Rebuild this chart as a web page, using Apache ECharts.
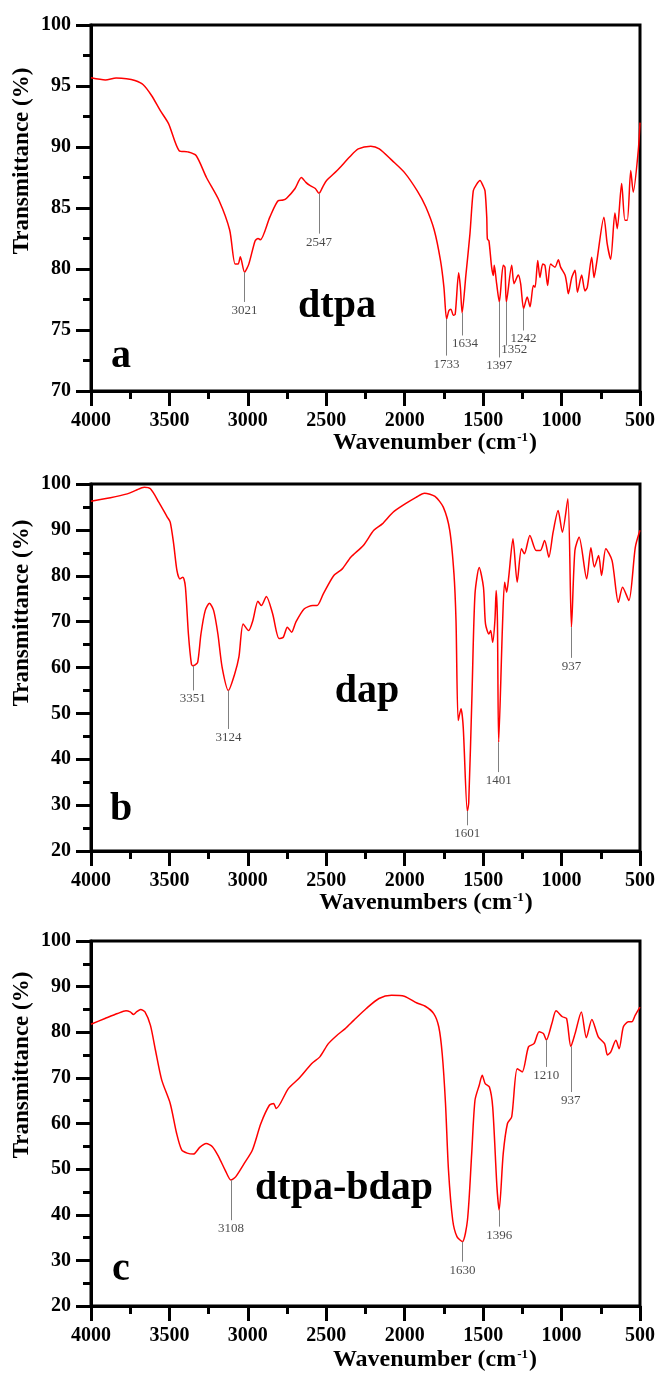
<!DOCTYPE html>
<html>
<head>
<meta charset="utf-8">
<script src="https://cdn.jsdelivr.net/npm/echarts@6/dist/echarts.min.js"></script>
<style>
html,body{margin:0;padding:0;background:#fff;}
#chart{width:661px;height:1374px;}
</style>
</head>
<body>
<div id="chart"></div>
<script>
// ---------- Panel a: dtpa ----------
const dtpaWn = [4000,3908,3840,3774,3720,3667,3613,3559,3505,3438,3384,3330,3264,3183,3116,3081,3062,3048,3021,2994,2954,2935,2920,2860,2806,2775,2753,2699,2659,2630,2605,2570,2547,2520,2498,2431,2350,2296,2216,2162,2081,2001,1920,1866,1812,1772,1750,1733,1718,1705,1690,1678,1656,1645,1634,1610,1584,1563,1544,1520,1500,1488,1477,1473,1463,1446,1435,1429,1414,1397,1372,1361,1352,1318,1303,1276,1261,1242,1219,1201,1180,1169,1152,1138,1120,1106,1089,1070,1042,1021,1006,978,967,957,935,914,899,872,851,836,808,793,776,730,709,687,660,645,617,596,581,559,543,511,500];
const dtpaT = [95.67,95.5,95.65,95.6,95.45,95.1,94.2,93.0,91.9,89.7,89.6,89.3,87.5,85.6,83.2,80.4,80.4,81.0,79.74,80.4,82.3,82.5,82.4,84.25,85.6,85.65,85.8,86.6,87.5,87.1,86.85,86.6,86.2,86.8,87.25,88.07,89.2,89.85,90.07,89.85,88.9,87.9,86.4,85.1,83.2,80.7,78.5,75.9,76.6,76.7,76.2,76.3,79.7,78.5,76.4,79.5,82.9,86.4,86.9,87.25,86.8,86.4,84.25,82.47,82.3,80.15,79.47,80.3,78.8,77.3,80.3,80.15,77.3,80.3,78.8,79.5,78.8,76.75,77.7,76.9,78.65,78.5,80.7,79.3,80.4,80.3,78.65,80.4,80.15,80.75,80.15,79.5,78.8,77.97,79.3,79.9,78.1,79.5,78.2,78.5,80.97,79.3,80.55,84.25,82.06,80.8,84.6,83.3,87.0,84.0,84.0,88.07,86.3,89.7,92.0];
const dtpaPeakWn = [3021,2547,1733,1634,1397,1352,1242];
const dtpaPeakTop = [79.74,86.2,75.9,76.4,77.3,77.3,76.75];
const dtpaPeakEnd = [77.3,82.9,72.9,74.55,72.75,73.73,74.96];
const dtpaPeakLabel = ['3021','2547','1733','1634','1397','1352','1242'];

// ---------- Panel b: dap ----------
const dapWn = [4000,3876,3769,3715,3661,3621,3567,3514,3495,3473,3452,3433,3414,3398,3379,3360,3351,3339,3320,3299,3272,3245,3218,3191,3164,3124,3084,3057,3030,2995,2968,2936,2914,2882,2842,2801,2774,2748,2721,2694,2640,2586,2559,2519,2452,2398,2344,2264,2197,2143,2076,1995,1928,1874,1807,1754,1713,1686,1673,1659,1641,1627,1601,1592,1571,1552,1525,1498,1485,1463,1452,1439,1425,1417,1409,1401,1377,1363,1350,1337,1310,1283,1256,1237,1202,1162,1135,1108,1081,1054,1022,995,960,937,915,888,840,813,791,764,745,718,678,638,611,571,530,500];
const dapT = [96.25,97.0,97.85,98.6,99.3,98.95,96.0,92.8,91.7,86.95,81.1,79.3,79.7,77.5,67.3,60.8,60.4,60.5,61.1,67.3,72.4,74.0,72.4,67.3,60.05,55.0,58.6,62.3,69.5,68.05,70.25,74.45,73.5,75.5,71.7,66.3,66.6,68.8,67.7,69.9,72.8,73.5,73.5,76.05,80.05,81.5,84.05,86.6,89.9,91.3,93.8,95.7,97.1,98.0,97.3,94.95,89.9,80.4,70.25,48.45,51.0,47.0,28.7,30.5,54.3,76.0,81.8,77.5,69.5,67.3,68.05,65.5,70.25,76.8,70.25,43.7,68.8,78.6,76.4,79.7,88.05,78.6,85.9,84.8,88.8,85.5,85.5,87.7,84.05,89.5,94.2,89.5,96.8,68.8,85.5,88.4,79.3,86.1,81.9,84.4,80.05,85.9,83.3,74.2,77.5,74.6,86.2,89.9];
const dapPeakWn = [3351,3124,1601,1401,937];
const dapPeakTop = [60.4,55.0,28.7,43.7,68.8];
const dapPeakEnd = [55.0,46.6,25.6,37.2,62.1];
const dapPeakLabel = ['3351','3124','1601','1401','937'];

// ---------- Panel c: dtpa-bdap ----------
const bdapWn = [4000,3911,3831,3777,3750,3729,3710,3683,3656,3621,3589,3549,3495,3454,3422,3387,3347,3307,3266,3226,3186,3145,3108,3078,3024,2971,2917,2863,2836,2819,2742,2675,2594,2541,2487,2433,2379,2325,2245,2164,2084,2003,1922,1869,1815,1783,1761,1740,1721,1694,1667,1632,1600,1573,1552,1525,1506,1487,1460,1439,1412,1398,1372,1345,1318,1283,1251,1211,1176,1143,1116,1097,1062,1035,995,968,941,914,874,842,807,766,726,707,686,654,633,606,574,552,531,500];
const bdapT = [81.75,83.0,84.1,84.7,84.45,83.9,84.45,85.0,84.45,81.5,76.05,69.5,64.4,57.8,54.2,53.5,53.3,54.75,55.6,54.9,52.7,49.8,47.6,48.3,51.2,54.2,60.0,64.0,64.4,63.3,67.65,69.85,73.1,74.6,77.5,79.3,80.8,82.6,85.2,87.4,88.1,87.9,86.4,85.7,84.1,81.2,75.3,64.4,49.8,38.8,35.2,34.1,38.8,53.4,65.1,68.4,70.6,68.75,68.0,63.6,46.1,41.0,53.4,60.0,61.45,72.0,71.3,76.8,77.5,80.1,79.7,78.3,81.9,84.7,83.4,83.0,76.9,79.7,84.45,78.8,82.8,79.0,77.5,75.0,75.7,78.25,76.4,81.2,82.3,82.3,83.7,85.5];
const bdapPeakWn = [3108,1632,1398,1097,941];
const bdapPeakTop = [47.6,34.1,41.0,78.3,76.9];
const bdapPeakEnd = [38.8,29.7,37.4,72.4,66.9];
const bdapPeakLabel = ['3108','1630','1396','1210','937'];

// ---------- Axis ranges / text ----------
const xTicks = {min:500, max:4000, interval:500};
const yRanges = [{min:70,max:100,interval:5},{min:20,max:100,interval:10},{min:20,max:100,interval:10}];
const xNames = ['Wavenumber (cm','Wavenumbers (cm','Wavenumber (cm'];
const yName = 'Transmittance (%)';
const panelLetters = ['a','b','c'];
const sampleNames = ['dtpa','dap','dtpa-bdap'];

const SERIF = "'Liberation Serif','Times New Roman',serif";
const grids = [
  {left:91, top:25, width:549, height:366},
  {left:91, top:484, width:549, height:367},
  {left:91, top:941, width:549, height:365}
];
const labelOffsets = {'1352':[8,-4],'1634':[3,0]};

function zip(a,b){return a.map((v,i)=>[v,b[i]]);}

const specs = [
  {wn:dtpaWn, t:dtpaT, pw:dtpaPeakWn, pt:dtpaPeakTop, pe:dtpaPeakEnd, pl:dtpaPeakLabel},
  {wn:dapWn, t:dapT, pw:dapPeakWn, pt:dapPeakTop, pe:dapPeakEnd, pl:dapPeakLabel},
  {wn:bdapWn, t:bdapT, pw:bdapPeakWn, pt:bdapPeakTop, pe:bdapPeakEnd, pl:bdapPeakLabel}
];

const xAxes = [], yAxes = [], series = [];
grids.forEach((g,i)=>{
  xAxes.push({
    gridIndex:i, type:'value', min:xTicks.min, max:xTicks.max, interval:xTicks.interval, inverse:true,
    axisLine:{onZero:false, lineStyle:{color:'#000', width:3}},
    axisTick:{inside:false, length:15, lineStyle:{color:'#000', width:3}},
    minorTick:{show:true, splitNumber:2, length:8, lineStyle:{color:'#000', width:3}},
    splitLine:{show:false},
    axisLabel:{fontFamily:SERIF, fontWeight:'bold', fontSize:20, color:'#000', margin:20,
      showMinLabel:true, showMaxLabel:true, formatter:v=>String(v)}
  });
  yAxes.push({
    gridIndex:i, type:'value', min:yRanges[i].min, max:yRanges[i].max, interval:yRanges[i].interval,
    axisLine:{onZero:false, lineStyle:{color:'#000', width:3}},
    axisTick:{inside:false, length:15, lineStyle:{color:'#000', width:3}},
    minorTick:{show:true, splitNumber:2, length:8, lineStyle:{color:'#000', width:3}},
    splitLine:{show:false},
    axisLabel:{fontFamily:SERIF, fontWeight:'bold', fontSize:20, color:'#000', margin:20, formatter:v=>String(v)}
  });
  const s = specs[i];
  series.push({
    type:'line', xAxisIndex:i, yAxisIndex:i, data:zip(s.wn, s.t),
    showSymbol:false, smooth:0.25, lineStyle:{color:'#ff0000', width:1.5}, silent:true, z:3
  });
  series.push({
    type:'scatter', xAxisIndex:i, yAxisIndex:i, symbolSize:0, silent:true, z:4,
    itemStyle:{color:'rgba(0,0,0,0)'},
    data: s.pw.map((w,k)=>({
      value:[w, s.pe[k]], name:s.pl[k],
      label: labelOffsets[s.pl[k]] ? {offset:labelOffsets[s.pl[k]]} : undefined
    })),
    label:{show:true, position:'bottom', distance:2, formatter:p=>p.name, fontFamily:SERIF, fontSize:13, color:'#1a1a1a'},
    markLine:{
      silent:true, symbol:['none','none'], animation:false,
      lineStyle:{color:'#808080', width:1, type:'solid'},
      label:{show:false},
      data: s.pw.map((w,k)=>[{coord:[w, s.pt[k]]},{coord:[w, s.pe[k]]}])
    }
  });
});

const xNameY = [443, 903, 1360];
const xNameX = [435, 426, 435];
const yNameY = [161, 613, 1065];
const letterY = [357, 810, 1270];
const sampleXY = [[337,307],[367,692],[344,1189]];

const graphics = [];
grids.forEach((g,i)=>{
  graphics.push({
    type:'text', x:xNameX[i], y:xNameY[i], z:10,
    style:{
      text:'{n|'+xNames[i]+'}{s|-1}{n|)}', textAlign:'center', textVerticalAlign:'middle',
      rich:{
        n:{fontFamily:SERIF, fontWeight:'bold', fontSize:24, fill:'#000', verticalAlign:'bottom'},
        s:{fontFamily:SERIF, fontWeight:'bold', fontSize:13, fill:'#000', verticalAlign:'top', padding:[0,1,0,1]}
      }
    }
  });
  graphics.push({
    type:'text', x:22, y:yNameY[i], rotation:Math.PI/2, z:10,
    style:{text:yName, textAlign:'center', textVerticalAlign:'middle', fontFamily:SERIF, fontWeight:'bold', fontSize:23, fill:'#000'}
  });
  graphics.push({
    type:'text', x:121, y:letterY[i], z:10,
    style:{text:panelLetters[i], textAlign:'center', textVerticalAlign:'middle', fontFamily:SERIF, fontWeight:'bold', fontSize:40, fill:'#000'}
  });
  graphics.push({
    type:'text', x:sampleXY[i][0], y:sampleXY[i][1], z:10,
    style:{text:sampleNames[i], textAlign:'center', textVerticalAlign:'middle', fontFamily:SERIF, fontWeight:'bold', fontSize:40, fill:'#000'}
  });
});

const chart = echarts.init(document.getElementById('chart'), null, {renderer:'canvas'});
chart.setOption({
  animation:false,
  backgroundColor:'#fff',
  grid: grids.map(g=>Object.assign({show:true, borderColor:'#000', borderWidth:3, backgroundColor:'transparent', containLabel:false}, g)),
  xAxis:xAxes, yAxis:yAxes, series:series, graphic:graphics
});
</script>
</body>
</html>
